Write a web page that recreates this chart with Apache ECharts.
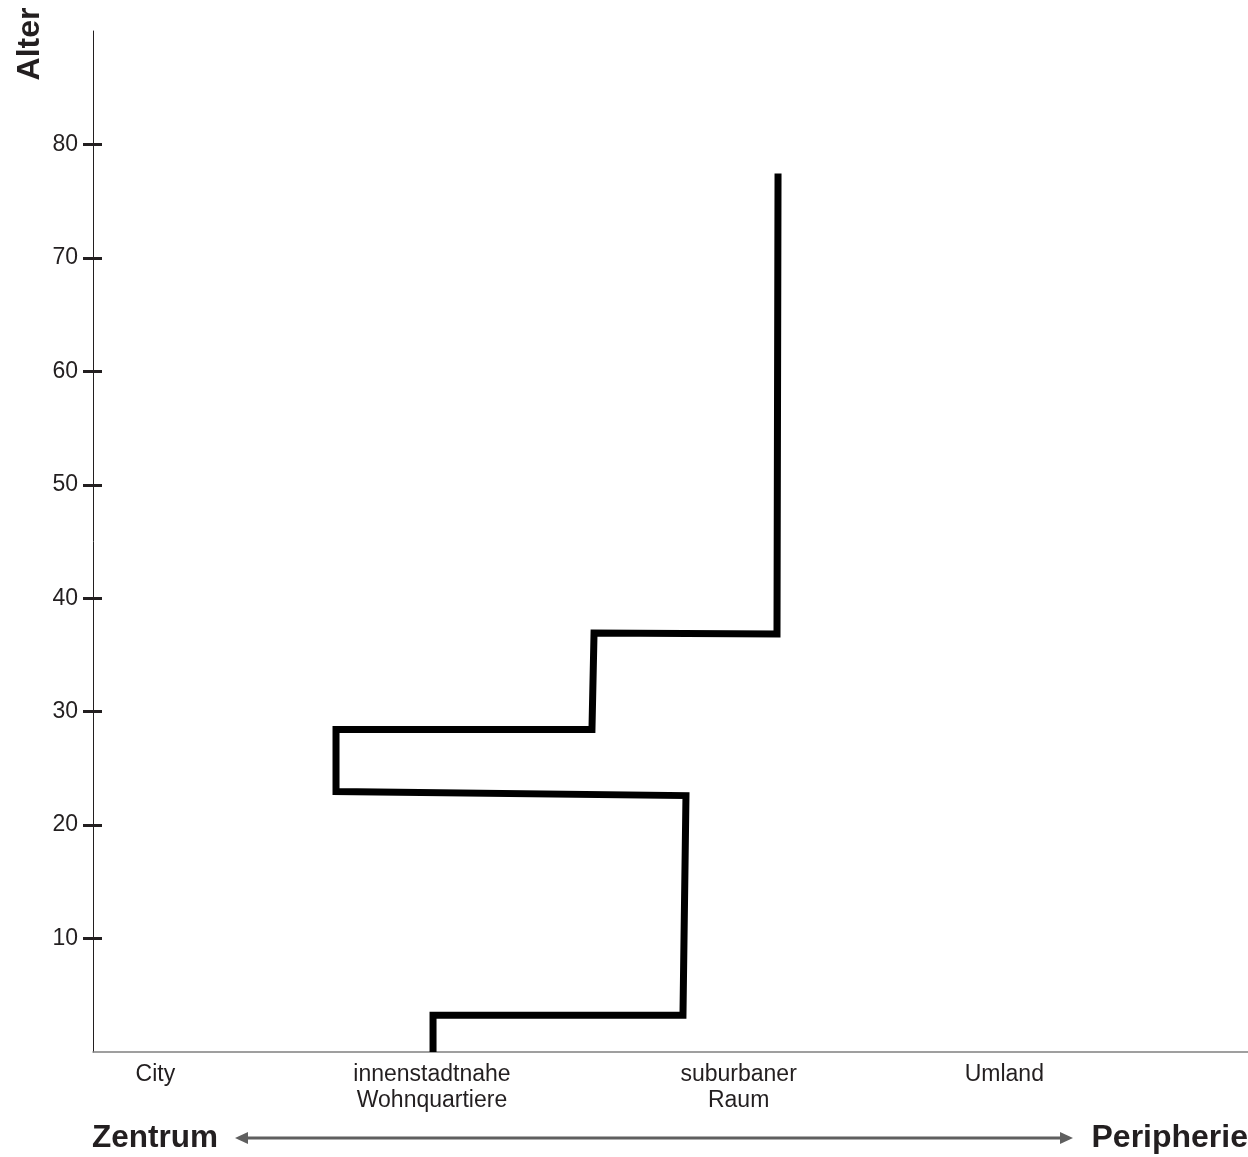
<!DOCTYPE html>
<html>
<head>
<meta charset="utf-8">
<script src="https://cdn.jsdelivr.net/npm/echarts@6/dist/echarts.min.js"></script>
<style>
html,body{margin:0;padding:0;background:#fff;}
#chart{width:1248px;height:1157px;}
</style>
</head>
<body>
<div id="chart"></div>
<script>
// Position scale along the centre–periphery axis (0 = edge of axis, 100 = right edge)
var xLabelPositions = [5.4, 29.35, 55.9, 78.9];
var xLabelNames = ['City', 'innenstadtnahe\nWohnquartiere', 'suburbaner\nRaum', 'Umland'];
var yTickValues = [10, 20, 30, 40, 50, 60, 70, 80];

// Residential location path over age (x position, age)
var pathX =   [29.44, 29.44, 51.08, 51.34, 21.04, 21.04, 43.20, 43.38, 59.22, 59.31];
var pathAge = [0,     3.25,  3.25,  22.6,  22.96, 28.42, 28.42, 36.93, 36.85, 77.44];

var textColor = '#231f20';
var pathData = pathX.map(function (x, i) { return [x, pathAge[i]]; });

var chart = echarts.init(document.getElementById('chart'));
chart.setOption({
  backgroundColor: '#fff',
  animation: false,
  grid: { left: 93, right: 0, top: 31, bottom: 105 },
  xAxis: {
    type: 'value', min: 0, max: 100,
    splitLine: { show: false },
    axisLine: { show: true, lineStyle: { color: '#808080', width: 1.5 } },
    axisTick: { show: false },
    axisLabel: {
      customValues: xLabelPositions,
      formatter: function (v) {
        for (var i = 0; i < xLabelPositions.length; i++) {
          if (Math.abs(xLabelPositions[i] - v) < 1e-6) return xLabelNames[i];
        }
        return '';
      },
      color: textColor, fontSize: 23, lineHeight: 26, margin: 10,
      fontFamily: 'Liberation Sans, Arial, sans-serif'
    }
  },
  yAxis: [{
    type: 'value', min: 0, max: 90, position: 'left',
    splitLine: { show: false },
    axisLine: { show: true, lineStyle: { color: textColor, width: 1 } },
    axisTick: { show: true, customValues: yTickValues, length: 10, lineStyle: { color: textColor, width: 3 } },
    axisLabel: { customValues: yTickValues, color: textColor, fontSize: 23, margin: 15,
      padding: [3, 0, 0, 0],
      fontFamily: 'Liberation Sans, Arial, sans-serif' }
  }, {
    type: 'value', min: 0, max: 90, position: 'left',
    splitLine: { show: false },
    axisLine: { show: false },
    axisTick: { show: true, inside: true, customValues: yTickValues, length: 9, lineStyle: { color: textColor, width: 3 } },
    axisLabel: { show: false }
  }],
  series: [{
    type: 'line',
    data: pathData,
    yAxisIndex: 0,
    showSymbol: false,
    symbol: 'none',
    clip: false,
    lineStyle: { color: '#000', width: 7, join: 'miter', cap: 'butt' }
  }],
  graphic: [
    { type: 'text', x: 30, y: 44, rotation: Math.PI / 2,
      style: { text: 'Alter', fill: textColor, font: 'bold 32px "Liberation Sans", Arial, sans-serif', align: 'center', verticalAlign: 'middle' } },
    { type: 'text', x: 92, y: 1138,
      style: { text: 'Zentrum', fill: textColor, font: 'bold 31.5px "Liberation Sans", Arial, sans-serif', align: 'left', verticalAlign: 'middle' } },
    { type: 'text', x: 1248, y: 1138,
      style: { text: 'Peripherie', fill: textColor, font: 'bold 32px "Liberation Sans", Arial, sans-serif', align: 'right', verticalAlign: 'middle' } },
    { type: 'line', shape: { x1: 244, y1: 1138, x2: 1064, y2: 1138 },
      style: { stroke: '#5f5f5f', lineWidth: 3 } },
    { type: 'polygon', shape: { points: [[235, 1138], [248, 1132], [248, 1144]] },
      style: { fill: '#5f5f5f' } },
    { type: 'polygon', shape: { points: [[1073, 1138], [1060, 1132], [1060, 1144]] },
      style: { fill: '#5f5f5f' } }
  ]
});
</script>
</body>
</html>
